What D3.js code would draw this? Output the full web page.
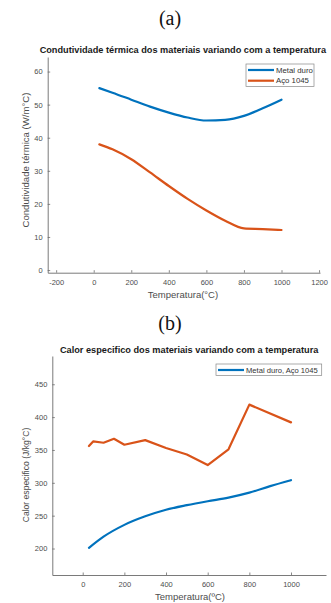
<!DOCTYPE html>
<html>
<head>
<meta charset="utf-8">
<script src="https://cdn.jsdelivr.net/npm/d3@7"></script>
<style>
  body { margin: 0; background: #fff; }
  svg { display: block; font-family: "Liberation Sans", Arial, sans-serif; }
</style>
</head>
<body>
<svg id="fig" width="331" height="603"></svg>
<script>
// ── DATA ────────────────────────────────────────────
// (a) thermal conductivity, W/m°C
const condTemp     = [30, 100, 200, 300, 400, 500, 600, 700, 800, 900, 1000];
const condMetal    = [55, 53.6, 51.5, 49.4, 47.6, 46.1, 45.2, 45.4, 46.6, 48.9, 51.5];
const condSteel    = [38, 36.5, 33.5, 29.5, 25.4, 21.5, 18, 14.9, 12.6, 12.4, 12.1];
const condXTicks   = [-200, 0, 200, 400, 600, 800, 1000, 1200];
const condYTicks   = [0, 10, 20, 30, 40, 50, 60];

// (b) specific heat, J/kg°C
const heatTempMetal  = [30, 100, 200, 300, 400, 500, 600, 700, 800, 900, 1000];
const heatMetal      = [201, 218, 236, 249, 259, 266, 272, 277.5, 285, 295, 304];
const heatTempSteel  = [30, 50, 100, 150, 200, 300, 400, 500, 600, 700, 800, 1000];
const heatSteel      = [356, 363, 361, 367, 358, 365, 353, 343, 327, 351, 419, 392];
const heatXTicks     = [0, 200, 400, 600, 800, 1000];
const heatYTicks     = [200, 250, 300, 350, 400, 450];

const BLUE = '#0072BD', ORANGE = '#D95319';
const AXIS = '#6b6b6b', TICKTXT = '#4d4d4d';

const svg = d3.select('#fig');

function panel(cfg) {
  const x = d3.scaleLinear().domain(cfg.xDomain).range([cfg.left, cfg.right]);
  const y = d3.scaleLinear().domain(cfg.yDomain).range([cfg.bottom, cfg.top]);
  const g = svg.append('g');

  // panel letter
  g.append('text')
    .attr('x', 170).attr('y', cfg.letterY)
    .attr('text-anchor', 'middle')
    .attr('font-family', '"Liberation Serif", "Times New Roman", serif')
    .attr('font-size', '20px').attr('fill', '#111')
    .text(cfg.letter);

  // title
  g.append('text')
    .attr('x', (cfg.left + cfg.right) / 2 + cfg.titleDx).attr('y', cfg.titleY)
    .attr('text-anchor', 'middle')
    .attr('font-size', '9.2px').attr('font-weight', 'bold').attr('fill', '#1a1a1a')
    .text(cfg.title);

  // axes
  const fmt = d => String(d);
  const xAx = g.append('g').attr('transform', `translate(0,${cfg.bottom})`)
    .call(d3.axisBottom(x).tickValues(cfg.xTicks).tickFormat(fmt)
      .tickSizeInner(-2.5).tickSizeOuter(0).tickPadding(7));
  const yAx = g.append('g').attr('transform', `translate(${cfg.left},0)`)
    .call(d3.axisLeft(y).tickValues(cfg.yTicks).tickFormat(fmt)
      .tickSizeInner(-2.5).tickSizeOuter(0).tickPadding(5));
  [xAx, yAx].forEach(a => {
    a.select('.domain').attr('stroke', AXIS).attr('stroke-width', 0.9);
    a.selectAll('.tick line').attr('stroke', AXIS).attr('stroke-width', 0.8);
    a.selectAll('.tick text').attr('fill', TICKTXT).attr('font-size', '7.5px')
      .attr('font-family', '"Liberation Sans", Arial, sans-serif');
  });

  // axis labels
  g.append('text')
    .attr('x', cfg.xLabelX).attr('y', cfg.xLabelY)
    .attr('text-anchor', 'middle').attr('font-size', '9.5px').attr('fill', TICKTXT)
    .text(cfg.xLabel);
  g.append('text')
    .attr('transform', `translate(${cfg.yLabelX},${cfg.yLabelY}) rotate(-90)`)
    .attr('text-anchor', 'middle').attr('font-size', cfg.yLabelSize).attr('fill', TICKTXT)
    .text(cfg.yLabel);

  // series
  cfg.series.forEach(s => {
    const line = d3.line().x(d => x(d[0])).y(d => y(d[1])).curve(s.curve);
    g.append('path')
      .datum(d3.zip(s.xs, s.ys))
      .attr('fill', 'none').attr('stroke', s.color).attr('stroke-width', 2.2)
      .attr('stroke-linejoin', 'round').attr('stroke-linecap', 'round')
      .attr('d', line);
  });

  // legend
  const L = cfg.legend;
  g.append('rect')
    .attr('x', L.x).attr('y', L.y).attr('width', L.w).attr('height', L.h)
    .attr('fill', '#fff').attr('stroke', '#888').attr('stroke-width', 0.7);
  L.items.forEach((it, i) => {
    const ly = L.y + L.first + i * L.step;
    g.append('line')
      .attr('x1', L.x + 2).attr('x2', L.x + L.lineW)
      .attr('y1', ly).attr('y2', ly)
      .attr('stroke', it.color).attr('stroke-width', 2.2);
    g.append('text')
      .attr('x', L.x + L.lineW + 2).attr('y', ly).attr('dy', '0.35em')
      .attr('font-size', L.fontSize).attr('fill', '#333')
      .text(it.label);
  });
}

// ── (a) ──
panel({
  letter: '(a)', letterY: 25,
  title: 'Condutividade térmica dos materiais variando com a temperatura',
  titleY: 53, titleDx: -1,
  left: 47.7, right: 320, top: 57, bottom: 272.7,
  xDomain: [-245, 1205], yDomain: [-0.8, 64.4],
  xTicks: condXTicks, yTicks: condYTicks,
  xLabel: 'Temperatura(°C)', xLabelX: 183, xLabelY: 298,
  yLabel: 'Condutividade térmica (W/m°C)', yLabelX: 29, yLabelY: 160, yLabelSize: '9.6px',
  series: [
    { xs: condTemp, ys: condMetal, color: BLUE,   curve: d3.curveMonotoneX },
    { xs: condTemp, ys: condSteel, color: ORANGE, curve: d3.curveMonotoneX }
  ],
  legend: {
    x: 246, y: 64, w: 68, h: 22.5, first: 6, step: 10.7, lineW: 28, fontSize: '7.8px',
    items: [ { label: 'Metal duro', color: BLUE }, { label: 'Aço 1045', color: ORANGE } ]
  }
});

// ── (b) ──
panel({
  letter: '(b)', letterY: 330,
  title: 'Calor especifico dos materiais variando com a temperatura',
  titleY: 353, titleDx: 0,
  left: 52.3, right: 326, top: 356, bottom: 575,
  xDomain: [-146, 1168], yDomain: [159.7, 493],
  xTicks: heatXTicks, yTicks: heatYTicks,
  xLabel: 'Temperatura(ºC)', xLabelX: 190, xLabelY: 600,
  yLabel: 'Calor especifico (J/kg°C)', yLabelX: 29, yLabelY: 475, yLabelSize: '8.6px',
  series: [
    { xs: heatTempSteel, ys: heatSteel, color: ORANGE, curve: d3.curveLinear },
    { xs: heatTempMetal, ys: heatMetal, color: BLUE,   curve: d3.curveMonotoneX }
  ],
  legend: {
    x: 216, y: 364, w: 105.7, h: 11.5, first: 6, step: 0, lineW: 28, fontSize: '7.6px',
    items: [ { label: 'Metal duro, Aço 1045', color: BLUE } ]
  }
});
</script>
</body>
</html>
